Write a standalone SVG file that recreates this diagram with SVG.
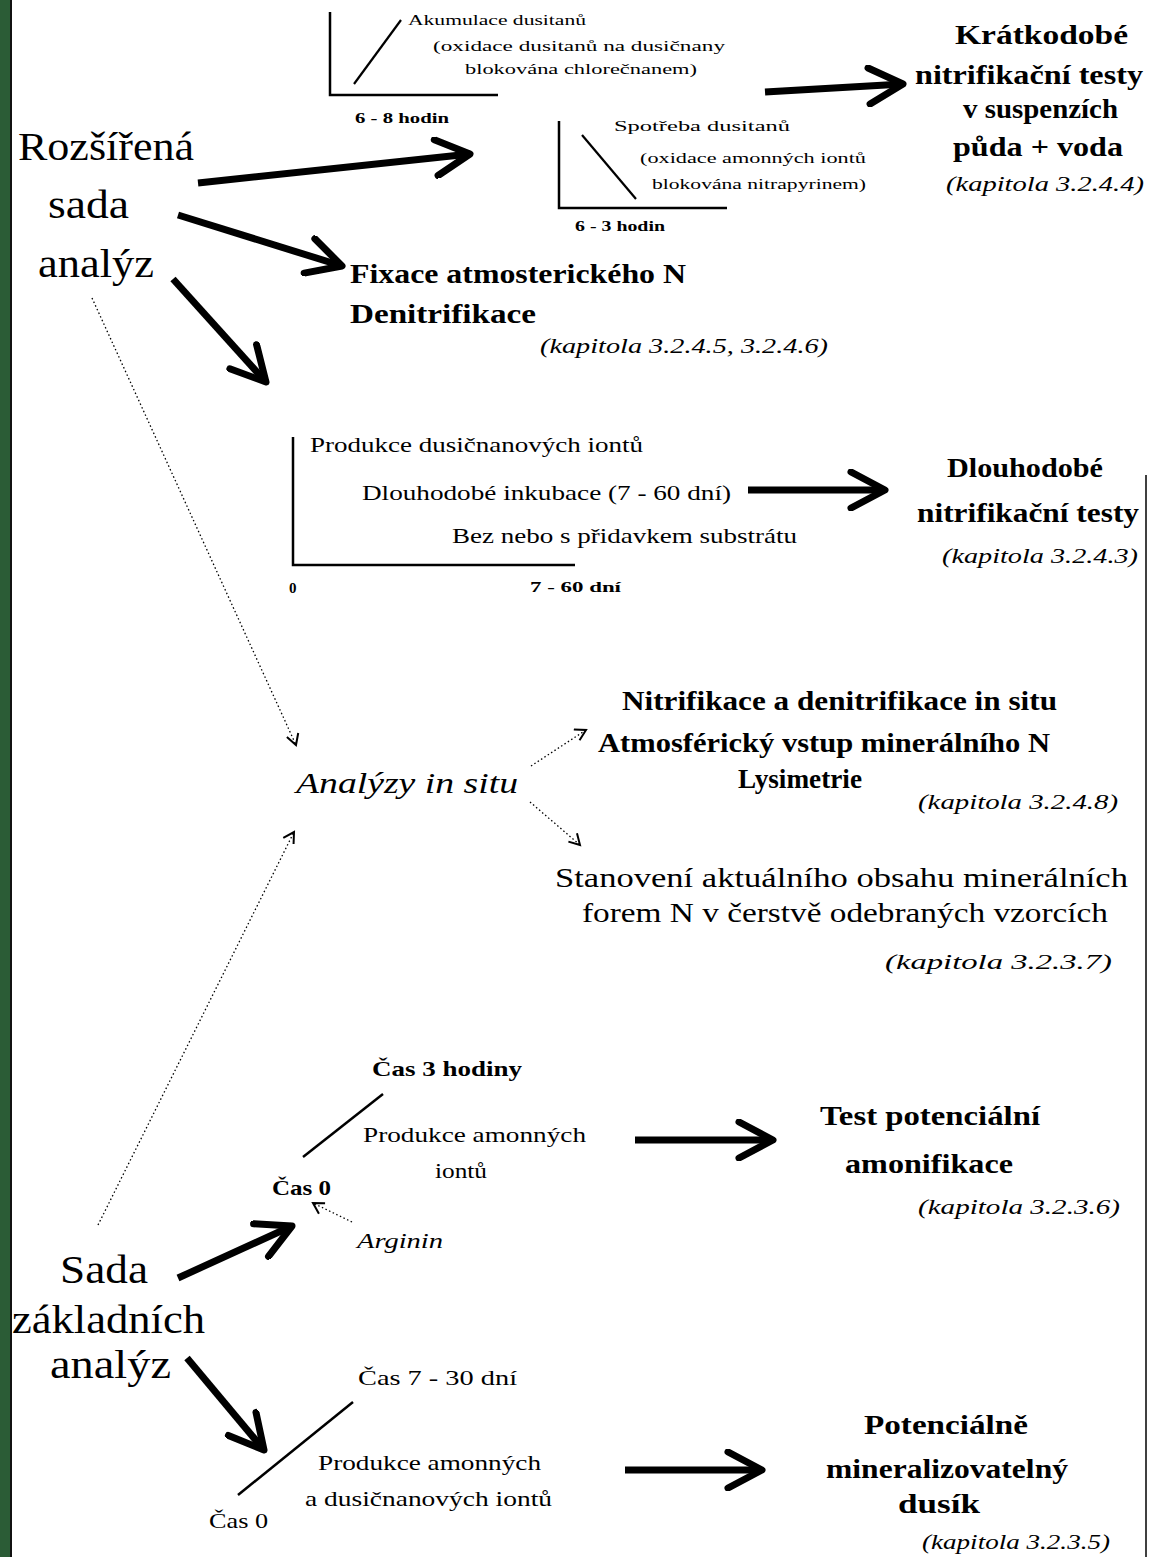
<svg xmlns="http://www.w3.org/2000/svg" width="1151" height="1557" viewBox="0 0 1151 1557">
<style>
text{font-family:"Liberation Serif","DejaVu Serif",serif;fill:#000}
.big{font-size:40px}
.ttl{font-size:27px;font-weight:bold}
.kap{font-size:20px;font-style:italic}
.sm{font-size:15px}
.smb{font-size:15px;font-weight:bold}
.md{font-size:21px}
.mdb{font-size:22px;font-weight:bold}
.ax{stroke:#000;stroke-width:2.5;fill:none}
.arr{stroke:#000;stroke-width:7;fill:none;marker-end:url(#ah)}
.dot{stroke:#000;stroke-width:1.3;fill:none;stroke-dasharray:1.5 2.5;marker-end:url(#dh)}
</style>
<defs>
<marker id="ah" markerUnits="userSpaceOnUse" markerWidth="46" markerHeight="42" viewBox="0 0 46 42" refX="40" refY="21" orient="auto">
<path d="M6,3 L40,21 L6,39" fill="none" stroke="#000" stroke-width="7" stroke-linejoin="round" stroke-linecap="round"/>
</marker>
<marker id="dh" markerUnits="userSpaceOnUse" markerWidth="16" markerHeight="16" viewBox="0 0 16 16" refX="13" refY="8" orient="auto">
<path d="M3,1 L13,8 L2,13" fill="none" stroke="#000" stroke-width="2"/>
</marker>
</defs>
<rect x="0" y="0" width="1151" height="1557" fill="#fff"/>
<rect x="0" y="0" width="10" height="1557" fill="#2b5c36"/>
<rect x="10" y="0" width="2" height="1557" fill="#111"/>
<line x1="1146" y1="475" x2="1146" y2="1557" stroke="#000" stroke-width="1.5"/>

<g id="connectors">
<line class="arr" x1="198" y1="183" x2="470" y2="154"/>
<line class="arr" x1="178" y1="215" x2="342" y2="266"/>
<line class="arr" x1="173" y1="279" x2="266" y2="382"/>
<line class="arr" x1="765" y1="92" x2="903" y2="84"/>
<line class="arr" x1="748" y1="490" x2="885" y2="490"/>
<line class="arr" x1="635" y1="1140" x2="773" y2="1140"/>
<line class="arr" x1="625" y1="1470" x2="762" y2="1470"/>
<line class="arr" x1="178" y1="1278" x2="292" y2="1226"/>
<line class="arr" x1="187" y1="1358" x2="264" y2="1450"/>
<line class="dot" x1="92" y1="298" x2="296" y2="745"/>
<line class="dot" x1="98" y1="1225" x2="294" y2="832"/>
<line class="dot" x1="531" y1="766" x2="586" y2="730"/>
<line class="dot" x1="530" y1="802" x2="580" y2="845"/>
<line class="dot" x1="352" y1="1222" x2="313" y2="1203"/>
</g>

<g id="graph-akumulace">
<polyline class="ax" points="330,12 330,95 498,95"/>
<line x1="354" y1="84" x2="401" y2="20" stroke="#000" stroke-width="2.2"/>
<text class="sm" x="408" y="25" textLength="178" lengthAdjust="spacingAndGlyphs">Akumulace dusitanů</text>
<text class="sm" x="433" y="51" textLength="292" lengthAdjust="spacingAndGlyphs">(oxidace dusitanů na dusičnany</text>
<text class="sm" x="465" y="74" textLength="232" lengthAdjust="spacingAndGlyphs">blokována chlorečnanem)</text>
<text class="smb" x="355" y="123" textLength="94" lengthAdjust="spacingAndGlyphs">6 - 8 hodin</text>
</g>

<g id="graph-spotreba">
<polyline class="ax" points="559,121 559,208 727,208"/>
<line x1="582" y1="135" x2="636" y2="199" stroke="#000" stroke-width="2.2"/>
<text class="sm" x="614" y="131" textLength="176" lengthAdjust="spacingAndGlyphs">Spotřeba dusitanů</text>
<text class="sm" x="640" y="163" textLength="226" lengthAdjust="spacingAndGlyphs">(oxidace amonných iontů</text>
<text class="sm" x="652" y="189" textLength="214" lengthAdjust="spacingAndGlyphs">blokována nitrapyrinem)</text>
<text class="smb" x="575" y="231" textLength="90" lengthAdjust="spacingAndGlyphs">6 - 3 hodin</text>
</g>

<g id="kratkodobe">
<text class="ttl" x="955" y="44" textLength="173" lengthAdjust="spacingAndGlyphs">Krátkodobé</text>
<text class="ttl" x="915" y="84" textLength="228" lengthAdjust="spacingAndGlyphs">nitrifikační testy</text>
<text class="ttl" x="963" y="118" textLength="155" lengthAdjust="spacingAndGlyphs">v suspenzích</text>
<text class="ttl" x="953" y="156" textLength="170" lengthAdjust="spacingAndGlyphs">půda + voda</text>
<text class="kap" x="946" y="191" textLength="198" lengthAdjust="spacingAndGlyphs">(kapitola 3.2.4.4)</text>
</g>

<g id="rozsirena">
<text class="big" x="18" y="160" textLength="176" lengthAdjust="spacingAndGlyphs">Rozšířená</text>
<text class="big" x="48" y="218" textLength="81" lengthAdjust="spacingAndGlyphs">sada</text>
<text class="big" x="38" y="277" textLength="116" lengthAdjust="spacingAndGlyphs">analýz</text>
</g>

<g id="fixace">
<text class="ttl" x="350" y="283" textLength="336" lengthAdjust="spacingAndGlyphs">Fixace atmosterického N</text>
<text class="ttl" x="350" y="323" textLength="186" lengthAdjust="spacingAndGlyphs">Denitrifikace</text>
<text class="kap" x="540" y="353" textLength="288" lengthAdjust="spacingAndGlyphs">(kapitola 3.2.4.5, 3.2.4.6)</text>
</g>

<g id="graph-produkce">
<polyline class="ax" points="293,437 293,565 575,565"/>
<text class="md" x="310" y="452" textLength="333" lengthAdjust="spacingAndGlyphs">Produkce dusičnanových iontů</text>
<text class="md" x="362" y="500" textLength="369" lengthAdjust="spacingAndGlyphs">Dlouhodobé inkubace (7 - 60 dní)</text>
<text class="md" x="452" y="543" textLength="345" lengthAdjust="spacingAndGlyphs">Bez nebo s přidavkem substrátu</text>
<text class="smb" x="289" y="593">0</text>
<text class="smb" x="530" y="592" textLength="91" lengthAdjust="spacingAndGlyphs">7 - 60 dní</text>
</g>

<g id="dlouhodobe">
<text class="ttl" x="947" y="477" textLength="156" lengthAdjust="spacingAndGlyphs">Dlouhodobé</text>
<text class="ttl" x="917" y="522" textLength="222" lengthAdjust="spacingAndGlyphs">nitrifikační testy</text>
<text class="kap" x="942" y="563" textLength="196" lengthAdjust="spacingAndGlyphs">(kapitola 3.2.4.3)</text>
</g>

<g id="insitu">
<text x="296" y="793" font-size="30" font-style="italic" textLength="222" lengthAdjust="spacingAndGlyphs">Analýzy in situ</text>
</g>

<g id="nitrifikace-insitu">
<text class="ttl" x="622" y="710" font-size="25" textLength="435" lengthAdjust="spacingAndGlyphs">Nitrifikace a denitrifikace in situ</text>
<text class="ttl" x="598" y="752" font-size="25" textLength="452" lengthAdjust="spacingAndGlyphs">Atmosférický vstup minerálního N</text>
<text class="ttl" x="738" y="788" font-size="25" textLength="124" lengthAdjust="spacingAndGlyphs">Lysimetrie</text>
<text class="kap" x="918" y="809" textLength="200" lengthAdjust="spacingAndGlyphs">(kapitola 3.2.4.8)</text>
</g>

<g id="stanoveni">
<text x="555" y="887" font-size="28" textLength="573" lengthAdjust="spacingAndGlyphs">Stanovení aktuálního obsahu minerálních</text>
<text x="582" y="922" font-size="28" textLength="526" lengthAdjust="spacingAndGlyphs">forem N v čerstvě odebraných vzorcích</text>
<text class="kap" x="885" y="969" textLength="227" lengthAdjust="spacingAndGlyphs">(kapitola 3.2.3.7)</text>
</g>

<g id="graph-amonifikace">
<text class="mdb" x="372" y="1076" textLength="150" lengthAdjust="spacingAndGlyphs">Čas 3 hodiny</text>
<line x1="303" y1="1157" x2="383" y2="1094" stroke="#000" stroke-width="2.5"/>
<text class="md" x="363" y="1142" textLength="223" lengthAdjust="spacingAndGlyphs">Produkce amonných</text>
<text class="md" x="435" y="1178" textLength="52" lengthAdjust="spacingAndGlyphs">iontů</text>
<text class="mdb" x="272" y="1195" font-size="20" textLength="59" lengthAdjust="spacingAndGlyphs">Čas 0</text>
<text x="357" y="1248" font-size="20" font-style="italic" textLength="86" lengthAdjust="spacingAndGlyphs">Arginin</text>
</g>

<g id="test-amonifikace">
<text class="ttl" x="820" y="1125" textLength="220" lengthAdjust="spacingAndGlyphs">Test potenciální</text>
<text class="ttl" x="845" y="1173" textLength="168" lengthAdjust="spacingAndGlyphs">amonifikace</text>
<text class="kap" x="918" y="1214" textLength="202" lengthAdjust="spacingAndGlyphs">(kapitola 3.2.3.6)</text>
</g>

<g id="sada">
<text class="big" x="60" y="1283" textLength="88" lengthAdjust="spacingAndGlyphs">Sada</text>
<text class="big" x="12" y="1333" textLength="193" lengthAdjust="spacingAndGlyphs">základních</text>
<text class="big" x="50" y="1378" textLength="121" lengthAdjust="spacingAndGlyphs">analýz</text>
</g>

<g id="graph-mineralizace">
<text class="md" x="358" y="1385" font-size="22" textLength="159" lengthAdjust="spacingAndGlyphs">Čas 7 - 30 dní</text>
<line x1="238" y1="1495" x2="353" y2="1402" stroke="#000" stroke-width="2.5"/>
<text class="md" x="318" y="1470" textLength="223" lengthAdjust="spacingAndGlyphs">Produkce amonných</text>
<text class="md" x="305" y="1506" textLength="247" lengthAdjust="spacingAndGlyphs">a dusičnanových iontů</text>
<text class="md" x="209" y="1528" textLength="59" lengthAdjust="spacingAndGlyphs">Čas 0</text>
</g>

<g id="potencialne">
<text class="ttl" x="864" y="1434" textLength="164" lengthAdjust="spacingAndGlyphs">Potenciálně</text>
<text class="ttl" x="826" y="1478" textLength="242" lengthAdjust="spacingAndGlyphs">mineralizovatelný</text>
<text class="ttl" x="898" y="1513" textLength="82" lengthAdjust="spacingAndGlyphs">dusík</text>
<text class="kap" x="922" y="1549" textLength="188" lengthAdjust="spacingAndGlyphs">(kapitola 3.2.3.5)</text>
</g>
</svg>
